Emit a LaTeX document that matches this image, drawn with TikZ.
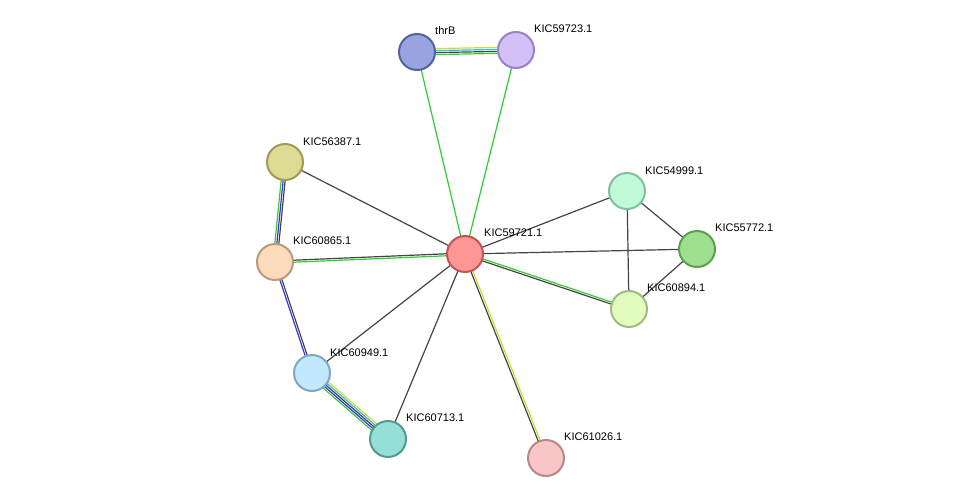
\documentclass[tikz,border=0pt]{standalone}
\usepackage{fontspec}
\setmainfont{Liberation Sans}
\usetikzlibrary{calc}
\definecolor{egreen}{HTML}{33CC33}
\definecolor{eblue}{HTML}{3333EE}
\definecolor{ecyan}{HTML}{33BBDD}
\definecolor{eyellow}{HTML}{CCDD33}
\definecolor{egrey}{HTML}{444444}
\definecolor{f1}{HTML}{99A3E0}\definecolor{b1}{HTML}{5562A0}
\definecolor{f2}{HTML}{D3C0F8}\definecolor{b2}{HTML}{9B82C8}
\definecolor{f3}{HTML}{DEDB94}\definecolor{b3}{HTML}{A09A55}
\definecolor{f4}{HTML}{FDDCBD}\definecolor{b4}{HTML}{BB9A7A}
\definecolor{f5}{HTML}{FE9696}\definecolor{b5}{HTML}{C05555}
\definecolor{f6}{HTML}{C0FAD8}\definecolor{b6}{HTML}{80C0A0}
\definecolor{f7}{HTML}{9DDF8E}\definecolor{b7}{HTML}{5C9F50}
\definecolor{f8}{HTML}{E1FCBD}\definecolor{b8}{HTML}{A0BB80}
\definecolor{f9}{HTML}{C2E8FB}\definecolor{b9}{HTML}{80A8C0}
\definecolor{f10}{HTML}{96DFD6}\definecolor{b10}{HTML}{559A90}
\definecolor{f11}{HTML}{F8C6C6}\definecolor{b11}{HTML}{B88888}
\tikzset{
  prot/.style={circle, minimum size=36pt, inner sep=0pt, line width=2pt, fill=f#1, draw=b#1},
  lbl/.style={anchor=south west, inner sep=0pt, font=\fontsize{11}{13}\selectfont},
  edge/.style={line width=1.2pt}
}
% parallel edges between two nodes
\newcommand{\multiedge}[3]{%
  \foreach \c [count=\i] in {#3} {\global\let\nedges\i}%
  \foreach \c [count=\i] in {#3} {%
    \pgfmathsetmacro{\off}{(\i-(\nedges+1)/2)*2}%
    \draw[edge, \c] ($(#1)!\off pt!90:(#2)$) -- ($(#2)!\off pt!-90:(#1)$);
  }}
\begin{document}
\begin{tikzpicture}[x=1pt, y=-1pt]
\useasboundingbox (0,0) rectangle (976,503);
\coordinate (thrB) at (417,52);
\coordinate (k59723) at (516,50);
\coordinate (k56387) at (285,162);
\coordinate (k60865) at (275,262);
\coordinate (k59721) at (465,254);
\coordinate (k54999) at (627,191);
\coordinate (k55772) at (697,249);
\coordinate (k60894) at (629,309);
\coordinate (k60949) at (312,373);
\coordinate (k60713) at (388,439);
\coordinate (k61026) at (546,458);
% edges
\multiedge{thrB}{k59723}{egreen,egrey,ecyan,eyellow}
\multiedge{thrB}{k59721}{egreen}
\multiedge{k59723}{k59721}{egreen}
\multiedge{k56387}{k60865}{egreen,eblue,egrey}
\multiedge{k56387}{k59721}{egrey}
\multiedge{k60865}{k59721}{egreen,egrey}
\multiedge{k60865}{k60949}{eblue,egrey}
\multiedge{k60949}{k59721}{egrey}
\multiedge{k60713}{k59721}{egrey}
\multiedge{k60949}{k60713}{egreen,eblue,egrey,ecyan,eyellow}
\multiedge{k59721}{k61026}{egrey,eyellow}
\multiedge{k59721}{k54999}{egrey}
\multiedge{k59721}{k55772}{egrey}
\multiedge{k59721}{k60894}{egrey,egreen}
\multiedge{k54999}{k55772}{egrey}
\multiedge{k54999}{k60894}{egrey}
\multiedge{k55772}{k60894}{egrey}
% proteins
\node[prot=1] (n1) at (thrB) {};
\node[prot=2] (n2) at (k59723) {};
\node[prot=3] (n3) at (k56387) {};
\node[prot=4] (n4) at (k60865) {};
\node[prot=5] (n5) at (k59721) {};
\node[prot=6] (n6) at (k54999) {};
\node[prot=7] (n7) at (k55772) {};
\node[prot=8] (n8) at (k60894) {};
\node[prot=9] (n9) at (k60949) {};
\node[prot=10] (n10) at (k60713) {};
\node[prot=11] (n11) at (k61026) {};
% labels
\node[lbl] at (435,35) {thrB};
\node[lbl] at (534,33) {KIC59723.1};
\node[lbl] at (303,146) {KIC56387.1};
\node[lbl] at (293,245) {KIC60865.1};
\node[lbl] at (484,237) {KIC59721.1};
\node[lbl] at (645,175) {KIC54999.1};
\node[lbl] at (715,232) {KIC55772.1};
\node[lbl] at (647,292) {KIC60894.1};
\node[lbl] at (330,357) {KIC60949.1};
\node[lbl] at (406,422) {KIC60713.1};
\node[lbl] at (564,441) {KIC61026.1};
\end{tikzpicture}
\end{document}
